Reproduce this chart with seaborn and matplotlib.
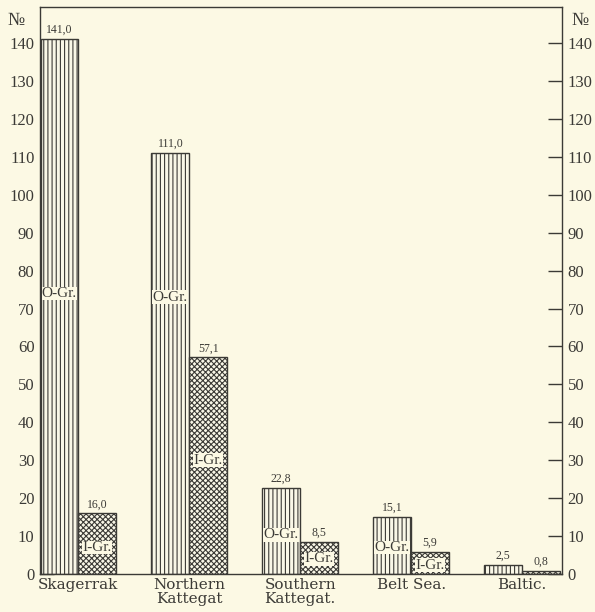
import pandas as pd
import numpy as np
import seaborn as sns
import matplotlib.pyplot as plt

regions = ['Skagerrak', 'Northern\nKattegat', 'Southern\nKattegat.', 'Belt Sea.', 'Baltic.']
o_gr = [141.0, 111.0, 22.8, 15.1, 2.5]
i_gr = [16.0, 57.1, 8.5, 5.9, 0.8]
yticks = list(range(0, 150, 10))

# where the group names sit inside the bars (None = no name)
o_name_y = [74, 73, 10.3, 7, None]
i_name_y = [7, 30, 4, 2.3, None]

bg = '#fcf9e4'
ink = '#3b3a36'

df = pd.DataFrame({
    'region': regions * 2,
    'value': o_gr + i_gr,
    'group': ['O-Gr.'] * 5 + ['I-Gr.'] * 5,
})

sns.set_style('white')
plt.rcParams['font.family'] = ['Liberation Serif', 'DejaVu Serif']
plt.rcParams['hatch.color'] = ink
plt.rcParams['hatch.linewidth'] = 0.8

fig = plt.figure(figsize=(5.95, 6.12), dpi=100, facecolor=bg)
ax = fig.add_axes([0.0672, 0.0621, 0.8773, 0.9265])
ax.set_facecolor(bg)

sns.barplot(data=df, x='region', y='value', hue='group', hue_order=['O-Gr.', 'I-Gr.'],
            palette=[bg, bg], edgecolor=ink, linewidth=1.0, width=0.68,
            legend=False, ax=ax)

for cont, h in zip(ax.containers, ['||||', 'xxxxxx']):
    for bar in cont:
        bar.set_hatch(h)

ax.set_xlim(-0.345, 4.36)
ax.set_ylim(0, 149.5)
ax.set_xlabel('')
ax.set_ylabel('')

for sp in ax.spines.values():
    sp.set_visible(True)
    sp.set_color(ink)
    sp.set_linewidth(1.0)

ax.set_yticks(yticks)
ax.tick_params(axis='y', which='both', direction='in', length=10, width=1, color=ink,
               left=True, right=True, labelleft=True, labelright=True,
               labelsize=12, labelcolor=ink, pad=4)
ax.tick_params(axis='x', length=0, labelsize=12, labelcolor=ink, pad=3)
for lab in ax.get_xticklabels():
    lab.set_family(['DejaVu Serif'])
    lab.set_fontsize(11)
    lab.set_linespacing(0.95)
    lab.set_verticalalignment('top')

# value labels above bars
for cont, vals in zip(ax.containers, [o_gr, i_gr]):
    for bar, v in zip(cont, vals):
        x = bar.get_x() + bar.get_width() / 2
        ax.text(x, v + 0.8, f'{v:.1f}'.replace('.', ','), ha='center', va='bottom',
                fontsize=8.5, color=ink)

# group names written inside the bars
for cont, ys, name in zip(ax.containers, [o_name_y, i_name_y], ['O-Gr.', 'I-Gr.']):
    for bar, y in zip(cont, ys):
        if y is None:
            continue
        x = bar.get_x() + bar.get_width() / 2
        ax.text(x, y, name, ha='center', va='center', fontsize=11, color=ink,
                bbox=dict(boxstyle='square,pad=0.02', fc=bg, ec='none'))

ax.text(-0.045, 146, '№', transform=ax.get_yaxis_transform(), ha='center', va='center',
        fontsize=13, color=ink)
ax.text(1.035, 146, '№', transform=ax.get_yaxis_transform(), ha='center', va='center',
        fontsize=13, color=ink)

fig.savefig('out.png', dpi=100, facecolor=bg)
